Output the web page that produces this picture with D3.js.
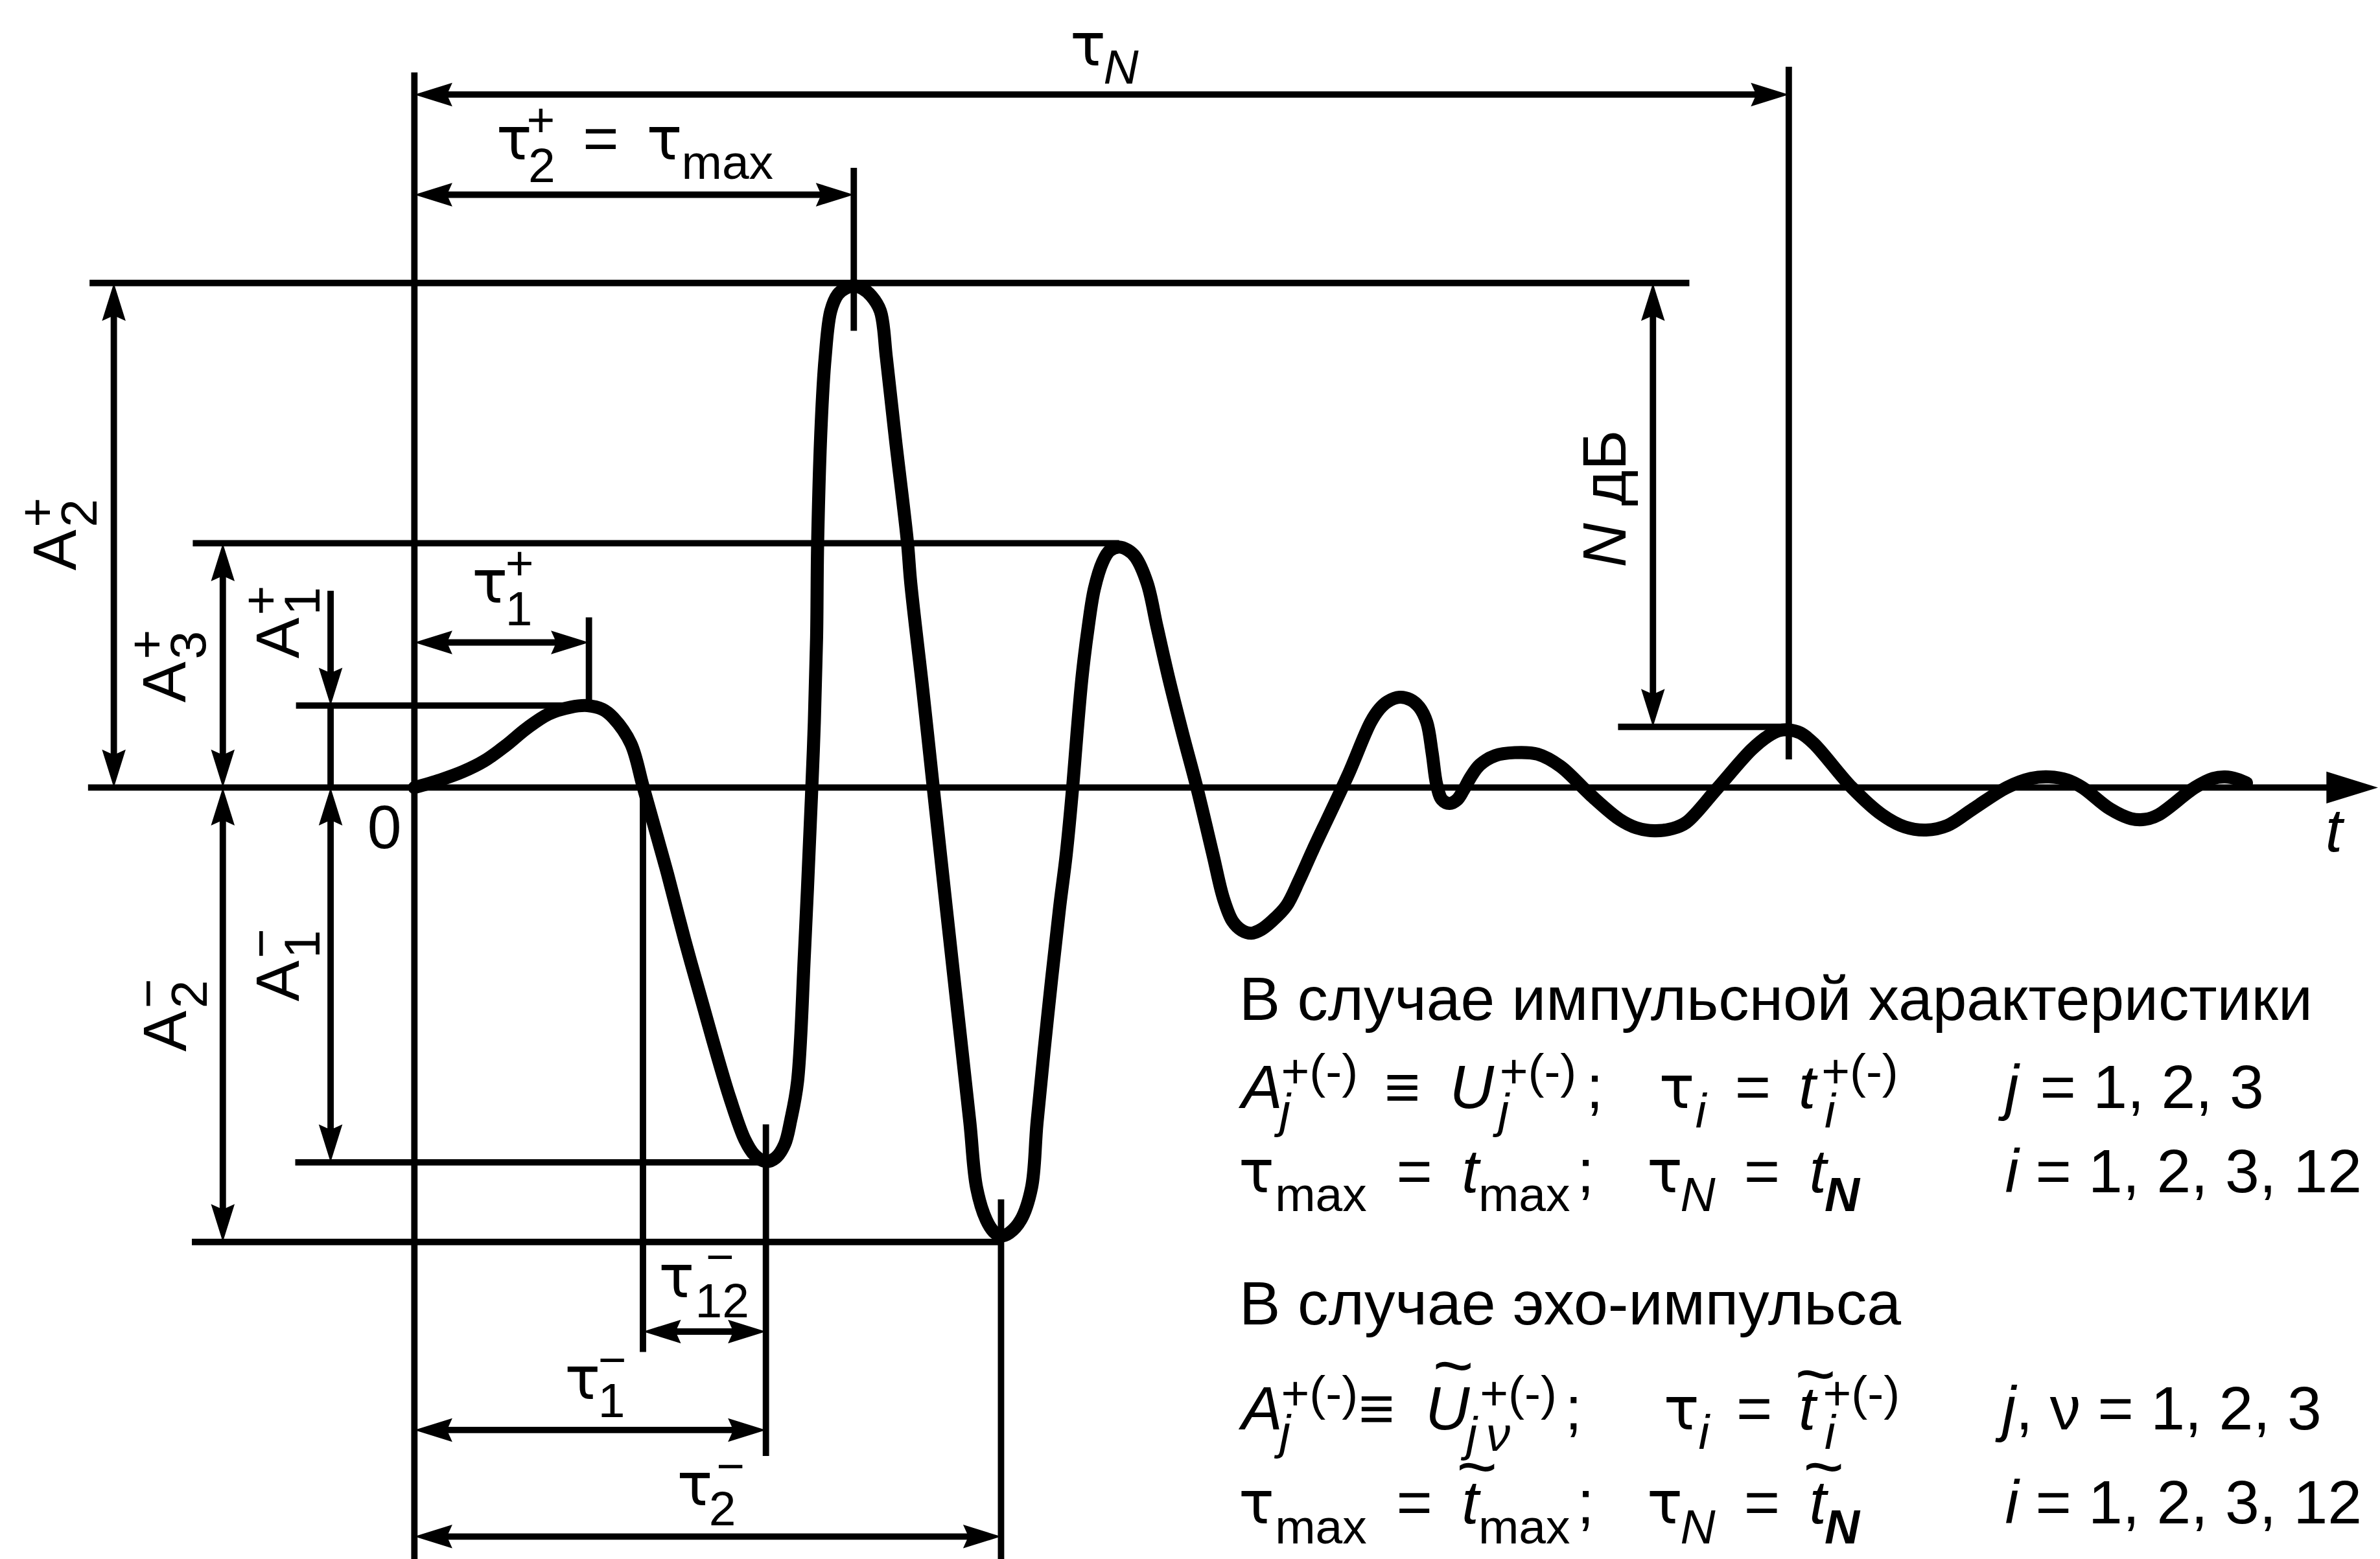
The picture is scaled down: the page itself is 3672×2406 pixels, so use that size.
<!DOCTYPE html>
<html>
<head>
<meta charset="utf-8">
<script src="https://cdn.jsdelivr.net/npm/d3@7"></script>
<style>
  html, body { margin: 0; padding: 0; background: #fff; }
  svg { display: block; }
  text { font-family: "Liberation Sans", Arial, sans-serif; fill: #000; }
</style>
</head>
<body>
<svg id="chart" width="3672" height="2406" viewBox="0 0 1568 1027.4"></svg>
<script>

// pulse shape: [time, amplitude] in arbitrary units
const pulse = [
  [0.00, 0.00], [0.17, 0.05], [0.32, 0.105], [0.46, 0.175], [0.60, 0.275], [0.74, 0.39],
  [0.885, 0.485], [1.03, 0.53], [1.14, 0.54], [1.24, 0.515], [1.31, 0.46], [1.426, 0.29],
  [1.506, 0.01], [1.59, -0.29], [1.668, -0.57], [1.78, -1.00], [1.90, -1.43], [1.99, -1.75],
  [2.08, -2.05], [2.177, -2.32], [2.24, -2.42], [2.316, -2.465], [2.38, -2.44], [2.44, -2.35],
  [2.48, -2.19], [2.524, -1.94], [2.57, -1.09], [2.616, -0.06], [2.635, 0.43], [2.65, 0.99],
  [2.657, 1.62], [2.68, 2.39], [2.706, 2.83], [2.743, 3.14], [2.79, 3.25], [2.84, 3.29],
  [2.895, 3.305], [2.95, 3.29], [3.01, 3.24], [3.07, 3.14], [3.11, 2.83], [3.17, 2.29],
  [3.248, 1.62], [3.27, 1.35], [3.35, 0.64], [3.425, -0.06], [3.504, -0.79], [3.582, -1.50],
  [3.66, -2.21], [3.704, -2.637], [3.768, -2.85], [3.82, -2.93], [3.865, -2.955], [3.92, -2.935],
  [3.995, -2.85], [4.066, -2.637], [4.102, -2.21], [4.173, -1.50], [4.251, -0.79], [4.294, -0.446],
  [4.337, 0.002], [4.365, 0.35], [4.40, 0.74], [4.44, 1.062], [4.48, 1.31], [4.536, 1.49],
  [4.58, 1.56], [4.643, 1.585], [4.70, 1.565], [4.75, 1.52], [4.828, 1.347], [4.892, 1.062],
  [4.97, 0.72], [5.063, 0.35], [5.155, 0.002], [5.262, -0.446], [5.33, -0.73], [5.39, -0.88],
  [5.45, -0.94], [5.515, -0.96], [5.58, -0.935], [5.65, -0.88], [5.745, -0.78], [5.83, -0.61],
  [5.92, -0.41], [6.15, 0.08], [6.30, 0.43], [6.36, 0.52], [6.41, 0.565], [6.49, 0.595],
  [6.56, 0.58], [6.62, 0.53], [6.67, 0.43], [6.705, 0.23], [6.735, 0.02], [6.77, -0.08],
  [6.82, -0.105], [6.87, -0.08], [6.91, -0.02], [6.96, 0.07], [7.02, 0.15], [7.12, 0.21],
  [7.25, 0.23], [7.40, 0.22], [7.55, 0.14], [7.75, -0.05], [7.94, -0.21], [8.05, -0.265],
  [8.17, -0.285], [8.29, -0.27], [8.38, -0.23], [8.58, -0.01], [8.81, 0.25], [8.92, 0.34],
  [8.99, 0.375], [9.055, 0.38], [9.13, 0.36], [9.22, 0.29], [9.47, 0.00], [9.67, -0.18],
  [9.82, -0.26], [9.96, -0.28], [10.10, -0.25], [10.27, -0.14], [10.49, 0.00], [10.65, 0.06],
  [10.77, 0.07], [10.89, 0.05], [10.99, 0.00], [11.17, -0.14], [11.31, -0.205], [11.40, -0.21],
  [11.49, -0.18], [11.73, 0.00], [11.85, 0.06], [11.93, 0.07], [12.01, 0.055], [12.07, 0.03]
]

// characteristic amplitudes
const amplitudes = [
  { id: "A2p", value: 3.325 },
  { id: "A3p", value: 1.61 },
  { id: "A1p", value: 0.54 },
  { id: "A1m", value: -2.47 },
  { id: "A2m", value: -2.995 },
  { id: "AN", value: 0.40 },
]

// characteristic times
const times = [
  { id: "t0", value: 0 },
  { id: "t1p", value: 1.15 },
  { id: "t12", value: 1.506 },
  { id: "t1m", value: 2.316 },
  { id: "t2p", value: 2.895 },
  { id: "t2m", value: 3.865 },
  { id: "t3p", value: 4.643 },
  { id: "tN", value: 9.055 },
]

const A = Object.fromEntries(amplitudes.map(d => [d.id, d.value]))
const T = Object.fromEntries(times.map(d => [d.id, d.value]))

const svg = d3.select("#chart")

const x = d3.scaleLinear().domain([0, 1]).range([273, 373])
const y = d3.scaleLinear().domain([0, 1]).range([519, 419])

const thin = 4.2
const F = 40.5   // main text
const S = 32     // indices

// ---- extension lines (drawn in data units) ----
const hLines = [
  [A.A2p, -2.14, 8.40],
  [A.A3p, -1.46, T.t3p],
  [A.A1p, -0.78, T.t1p],
  [A.A1m, -0.785, T.t1m],
  [A.A2m, -1.466, T.t2m],
  [A.AN, 7.93, T.tN],
]
const vLines = [
  [T.t0, 4.713, -5.2],
  [T.tN, 4.75, 0.185],
  [T.t2p, 4.084, 3.01],
  [T.t1p, 1.122, A.A1p],
  [T.t12, 0, -3.72],
  [T.t1m, -2.22, -4.405],
  [T.t2m, -2.714, -5.2],
  [-0.552, A.A1p, 0],
]

const lines = svg.append("g").attr("stroke", "#000").attr("stroke-width", thin)

lines.selectAll(".h").data(hLines).enter().append("line")
  .attr("x1", d => x(d[1])).attr("x2", d => x(d[2]))
  .attr("y1", d => y(d[0])).attr("y2", d => y(d[0]))

lines.selectAll(".v").data(vLines).enter().append("line")
  .attr("x1", d => x(d[0])).attr("x2", d => x(d[0]))
  .attr("y1", d => y(d[1])).attr("y2", d => y(d[2]))

// zero axis with filled arrow
const axisEnd = 12.937
lines.append("line")
  .attr("x1", x(-2.15)).attr("x2", x(axisEnd) - 20)
  .attr("y1", y(0)).attr("y2", y(0))
svg.append("path")
  .attr("d", `M${x(axisEnd)},${y(0)} L${x(axisEnd) - 34},${y(0) - 10.5} L${x(axisEnd) - 34},${y(0) + 10.5} Z`)
  .attr("fill", "#000")

// ---- dimension arrows ----
function head(px, py, ux, uy) {
  const L = 25, W = 7.8, N = 0.86
  const nx = -uy, ny = ux
  const bx = px - ux * L, by = py - uy * L
  return `M${px},${py} L${bx + nx * W},${by + ny * W} L${px - ux * L * N},${py - uy * L * N} L${bx - nx * W},${by - ny * W} Z`
}

// [kind, position, from, to, heads]
const dims = [
  ["h", 4.567, T.t0, T.tN, "both"],
  ["h", 3.907, T.t0, T.t2p, "both"],
  ["h", 0.956, T.t0, T.t1p, "both"],
  ["h", -3.585, T.t12, T.t1m, "both"],
  ["h", -4.234, T.t0, T.t1m, "both"],
  ["h", -4.936, T.t0, T.t2m, "both"],
  ["v", -1.98, 0, A.A2p, "both"],
  ["v", -1.262, 0, A.A3p, "both"],
  ["v", -1.262, 0, A.A2m, "both"],
  ["v", -0.552, 1.297, A.A1p, "end"],
  ["v", -0.552, 0, A.A1m, "both"],
  ["v", 8.16, A.A2p, A.AN, "both"],
]

dims.forEach(([kind, pos, a, b, heads]) => {
  const p0 = kind === "h" ? [x(a), y(pos)] : [x(pos), y(a)]
  const p1 = kind === "h" ? [x(b), y(pos)] : [x(pos), y(b)]
  const len = Math.hypot(p1[0] - p0[0], p1[1] - p0[1])
  const ux = (p1[0] - p0[0]) / len, uy = (p1[1] - p0[1]) / len
  const s0 = heads === "both" ? 8 : 0
  lines.append("line")
    .attr("x1", p0[0] + ux * s0).attr("y1", p0[1] + uy * s0)
    .attr("x2", p1[0] - ux * 8).attr("y2", p1[1] - uy * 8)
  svg.append("path").attr("d", head(p1[0], p1[1], ux, uy)).attr("fill", "#000")
  if (heads === "both") {
    svg.append("path").attr("d", head(p0[0], p0[1], -ux, -uy)).attr("fill", "#000")
  }
})

// ---- pulse ----
const line = d3.line()
  .x(d => x(d[0]))
  .y(d => y(d[1]))
  .curve(d3.curveCatmullRom.alpha(0.5))

svg.append("path")
  .datum(pulse)
  .attr("d", line)
  .attr("fill", "none")
  .attr("stroke", "#000")
  .attr("stroke-width", 8.6)
  .attr("stroke-linejoin", "round")
  .attr("stroke-linecap", "round")

// ---- text ----
const put = (px, py, s, o = {}) => svg.append("text")
  .attr("x", px).attr("y", py)
  .attr("font-size", o.size || F)
  .style("font-family", o.font || null)
  .attr("font-style", o.it ? "italic" : null)
  .attr("font-weight", o.b ? "bold" : null)
  .attr("text-anchor", o.anchor || null)
  .text(s)

// the tau of the original is wide with a hooked stem
const tau = (px, py) => put(px, py, "τ", { font: "'DejaVu Sans'", size: 39 })

// labels on the drawing
tau(705, 43); put(727, 55, "N", { size: S, it: true })

tau(327, 105); put(348, 120, "2", { size: S }); put(347, 90, "+", { size: S })
put(384, 105, "="); tau(426, 105); put(449, 118, "max", { size: S })

tau(311, 397); put(333, 412, "1", { size: S }); put(333, 382, "+", { size: S })

tau(434, 855); put(458, 868, "12", { size: S }); put(465, 839, "−", { size: S })
tau(372, 922); put(394, 934, "1", { size: S }); put(394, 907, "−", { size: S })
tau(446, 992); put(467, 1005, "2", { size: S }); put(472, 977, "−", { size: S })

put(242, 559, "0")
put(1532, 561, "t", { it: true })

function rotLabel(bx, by, base, sub, sup) {
  const g = svg.append("g").attr("transform", `translate(${bx},${by}) rotate(-90)`)
  g.append("text").attr("font-size", F).text(base)
  g.append("text").attr("x", 28.5).attr("y", 13.5).attr("font-size", S + 1.5).text(sub)
  g.append("text").attr("x", 28.5).attr("y", -14).attr("font-size", S + 1.5).text(sup)
}
rotLabel(50, 376, "A", "2", "+")
rotLabel(122, 463, "A", "3", "+")
rotLabel(197, 434, "A", "1", "+")
rotLabel(122.7, 693, "A", "2", "−")
rotLabel(197, 660, "A", "1", "−")

const nd = svg.append("g").attr("transform", "translate(1071,374) rotate(-90)")
  .append("text").attr("font-size", F)
nd.append("tspan").attr("font-style", "italic").text("N")
nd.append("tspan").text(" дБ")

// explanation block
put(816.5, 672, "В случае импульсной характеристики")
  .attr("textLength", 707).attr("lengthAdjust", "spacingAndGlyphs")

const row2 = 730, row3 = 785.5
put(818, row2, "A", { it: true })
put(843, row2 + 13, "j", { size: S, it: true }); put(844, row2 - 13, "+(-)", { size: S })
put(912, row2, "≡")
put(955, row2, "U", { it: true })
put(987, row2 + 13, "j", { size: S, it: true }); put(988, row2 - 13, "+(-)", { size: S })
put(1045, row2, ";")
tau(1093, row2); put(1117, row2 + 13, "i", { size: S, it: true })
put(1143, row2, "=")
put(1185, row2, "t", { it: true })
put(1202, row2 + 13, "i", { size: S, it: true }); put(1200, row2 - 13, "+(-)", { size: S })
put(1321, row2, "j", { it: true }); put(1344, row2, "= 1, 2, 3")

tau(816, row3); put(840, row3 + 12.5, "max", { size: S })
put(920, row3, "=")
put(963, row3, "t", { it: true }); put(974, row3 + 12.5, "max", { size: S })
put(1039, row3, ";")
tau(1085, row3); put(1107, row3 + 12.5, "N", { size: S, it: true })
put(1149, row3, "=")
put(1192, row3, "t", { it: true }); put(1202, row3 + 12.5, "N", { size: S, it: true, b: true })
put(1321, row3, "i", { it: true }); put(1341, row3, "= 1, 2, 3, 12")

put(816.5, 873, "В случае эхо-импульса")
  .attr("textLength", 436).attr("lengthAdjust", "spacingAndGlyphs")

const row5 = 942, row6 = 1004
put(818, row5, "A", { it: true })
put(843, row5 + 13, "j", { size: S, it: true }); put(844, row5 - 13, "+(-)", { size: S })
put(895, row5, "≡")
put(939, row5, "U", { it: true }); put(957.5, 915.5, "~", { size: 46, anchor: "middle" })
put(966, row5 + 14, "j", { size: S, it: true })
put(975, row5 - 13, "+(-)", { size: S })
put(979, row5 + 14, "ν", { size: S, it: true })
put(1031, row5, ";")
tau(1096, row5); put(1119, row5 + 13, "i", { size: S, it: true })
put(1144, row5, "=")
put(1185, row5, "t", { it: true }); put(1196, 921, "~", { size: 46, anchor: "middle" })
put(1202, row5 + 13, "i", { size: S, it: true }); put(1201, row5 - 13, "+(-)", { size: S })
const jn = svg.append("text").attr("x", 1319).attr("y", row5).attr("font-size", F)
jn.append("tspan").attr("font-style", "italic").text("j")
jn.append("tspan").text(", ν = 1, 2, 3")

tau(816, row6); put(840, row6 + 13, "max", { size: S })
put(920, row6, "=")
put(963, row6, "t", { it: true }); put(973, 982, "~", { size: 46, anchor: "middle" })
put(974, row6 + 13, "max", { size: S })
put(1039, row6, ";")
tau(1085, row6); put(1107, row6 + 13, "N", { size: S, it: true })
put(1149, row6, "=")
put(1192, row6, "t", { it: true }); put(1201.5, 982, "~", { size: 46, anchor: "middle" })
put(1202, row6 + 13, "N", { size: S, it: true, b: true })
put(1321, row6, "i", { it: true }); put(1341, row6, "= 1, 2, 3, 12")

</script>
</body>
</html>
